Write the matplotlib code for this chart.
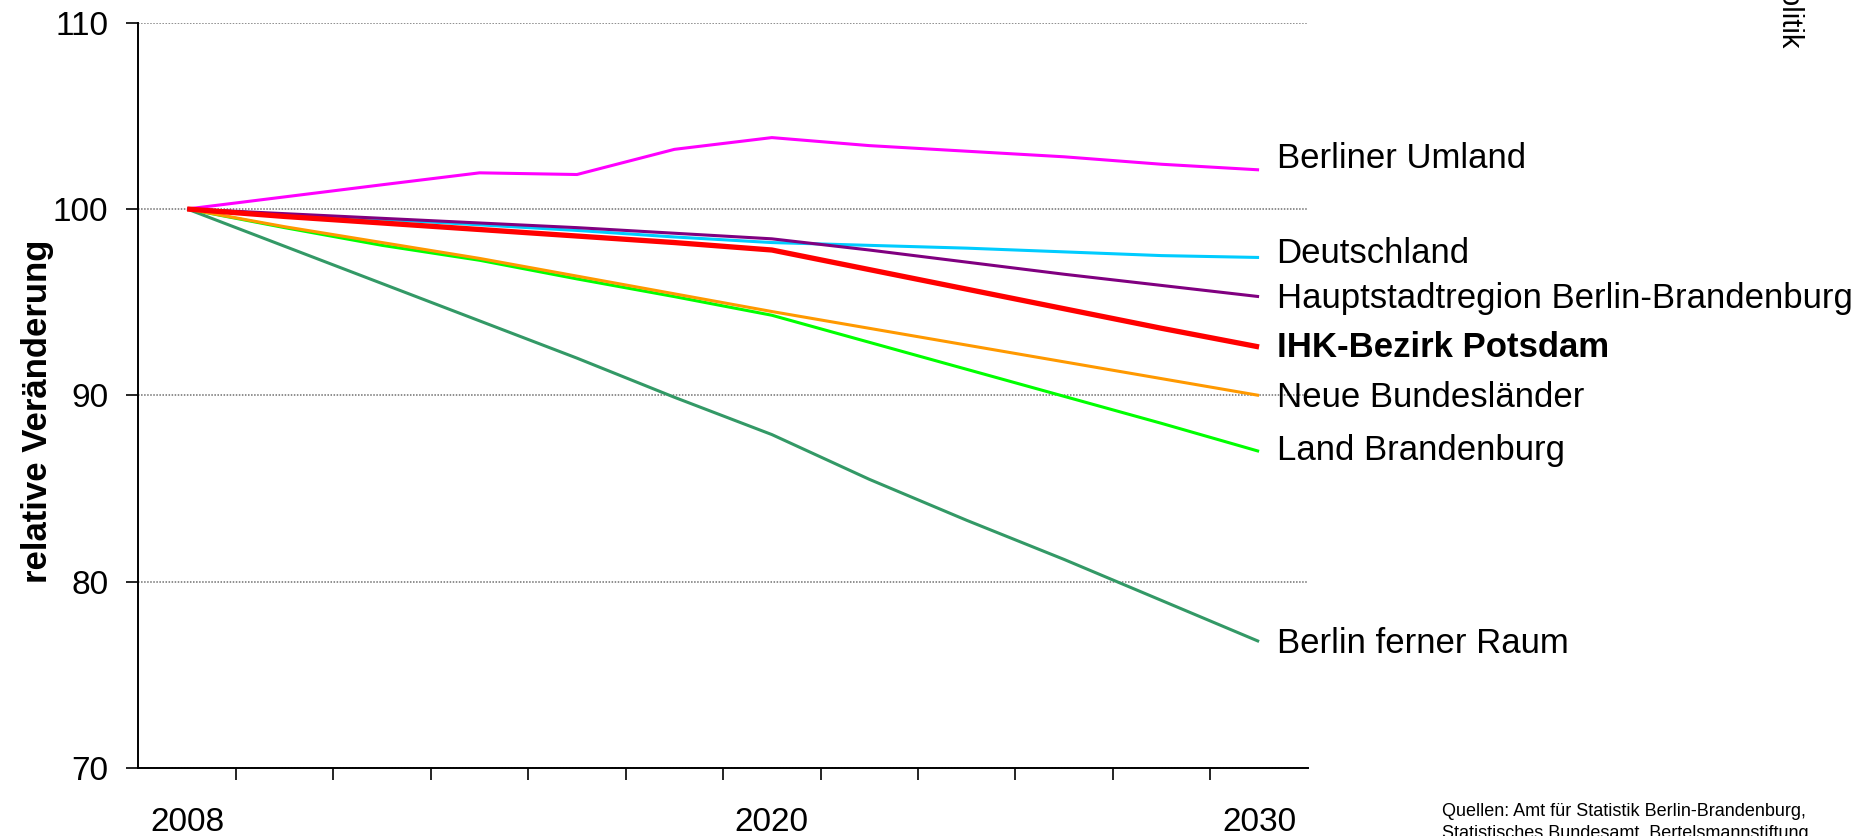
#!/usr/bin/env python

import matplotlib
matplotlib.use('Agg')
import matplotlib.pyplot as plt
import numpy as np

plt.rcParams['font.family'] = ['Liberation Sans', 'DejaVu Sans']

# Bevoelkerungsentwicklung, 2008 = 100
YEARS = ['2008', '2010', '2012', '2014', '2016', '2018',
         '2020', '2022', '2024', '2026', '2028', '2030']
SHOWN_YEARS = ['2008', '2020', '2030']

BERLINER_UMLAND = [100, 100.65, 101.3, 101.94, 101.85, 103.2,
                   103.83, 103.4, 103.1, 102.8, 102.4, 102.1]
DEUTSCHLAND = [100, 99.7, 99.45, 99.15, 98.85, 98.5,
               98.2, 98.05, 97.9, 97.7, 97.5, 97.4]
HAUPTSTADTREGION = [100, 99.75, 99.5, 99.25, 99.0, 98.7,
                    98.4, 97.8, 97.15, 96.5, 95.9, 95.3]
IHK_POTSDAM = [100, 99.6, 99.25, 98.9, 98.55, 98.2,
               97.8, 96.75, 95.7, 94.65, 93.6, 92.6]
NEUE_BL = [100, 99.05, 98.2, 97.35, 96.4, 95.45,
           94.5, 93.6, 92.7, 91.8, 90.9, 90.0]
LAND_BB = [100, 99.0, 98.05, 97.25, 96.25, 95.3,
           94.3, 92.85, 91.4, 89.95, 88.5, 87.0]
FERNER_RAUM = [100, 98.0, 96.0, 94.0, 92.0, 89.9,
               87.9, 85.5, 83.3, 81.2, 79.0, 76.8]


def main():
    fig = plt.figure(figsize=(18.59, 8.36), dpi=100)
    ax = fig.add_axes([0.0745, 0.081, 0.629, 0.892])

    x = np.arange(len(YEARS))

    # (values, colour, width, label, label y, bold)
    series = [
        (FERNER_RAUM, '#339966', 2.2, 'Berlin ferner Raum', 76.7, False),
        (LAND_BB, '#00FF00', 2.2, 'Land Brandenburg', 87.05, False),
        (NEUE_BL, '#FF9900', 2.2, 'Neue Bundesländer', 89.9, False),
        (BERLINER_UMLAND, '#FF00FF', 2.2, 'Berliner Umland', 102.7, False),
        (DEUTSCHLAND, '#00CCFF', 2.2, 'Deutschland', 97.6, False),
        (HAUPTSTADTREGION, '#800080', 2.2,
         'Hauptstadtregion Berlin-Brandenburg', 95.2, False),
        (IHK_POTSDAM, '#FF0000', 3.8, 'IHK-Bezirk Potsdam', 92.55, True),
    ]
    for vals, col, lw, name, ly, bold in series:
        ax.plot(x, vals, color=col, lw=lw, solid_capstyle='butt',
                solid_joinstyle='miter', zorder=3)
        ax.text(11.18, ly, name, fontsize=25, va='center', ha='left',
                fontweight='bold' if bold else 'normal', clip_on=False)

    ax.set_xlim(-0.5, 11.5)
    ax.set_ylim(70, 110)

    ax.set_yticks([70, 80, 90, 100, 110])
    ax.yaxis.grid(True, color='#707070', linestyle=(0, (1, 1)), lw=1.1)
    ax.set_axisbelow(True)
    ax.tick_params(axis='y', direction='out', length=8.6, width=1.2,
                   labelsize=24, pad=13)

    ax.set_xticks([YEARS.index(y) for y in SHOWN_YEARS])
    ax.set_xticklabels(SHOWN_YEARS)
    ax.set_xticks(np.arange(0.5, 11.0, 1.0), minor=True)
    ax.tick_params(axis='x', which='major', length=0, labelsize=24, pad=28)
    ax.tick_params(axis='x', which='minor', direction='out', length=8.6,
                   width=1.2)

    for side in ['top', 'right']:
        ax.spines[side].set_visible(False)
    ax.spines['left'].set_linewidth(1.4)
    ax.spines['bottom'].set_linewidth(1.4)

    fig.text(0.02, 0.508, 'relative Veränderung', rotation=90,
             fontsize=25, fontweight='bold', ha='center', va='center')

    fig.text(0.963, 0.943, 'IHK Potsdam, Wirtschaftspolitik', rotation=-90,
             fontsize=21, ha='center', va='bottom')

    fig.text(0.7757, 0.04,
             'Quellen: Amt für Statistik Berlin-Brandenburg,\n'
             'Statistisches Bundesamt, Bertelsmannstiftung',
             fontsize=13, ha='left', va='top', linespacing=1.45,
             family=['Liberation Sans Narrow', 'Liberation Sans'])

    fig.savefig('out.png', dpi=100)


if __name__ == '__main__':
    main()
